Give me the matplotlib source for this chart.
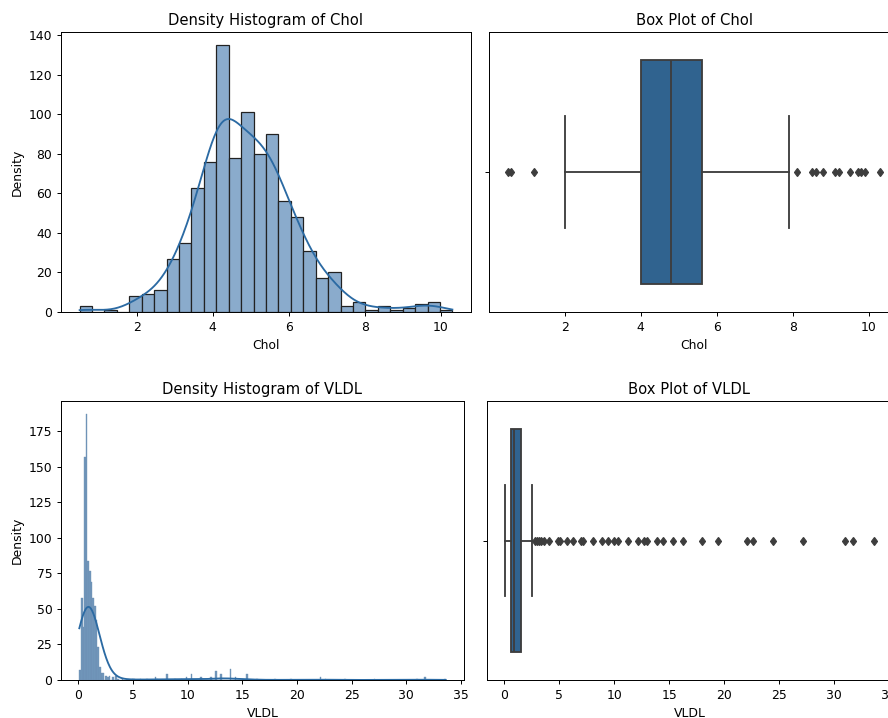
import numpy as np
import matplotlib
matplotlib.use('Agg')
import matplotlib.pyplot as plt

# --- Chol: 30 histogram bins between min and max ---
chol_min, chol_max = 0.5, 10.3
chol_counts = [3, 0, 1, 0, 8, 9, 11, 27, 35, 63, 76, 135, 78, 101, 80,
               90, 56, 48, 31, 17, 20, 3, 5, 1, 3, 1, 2, 4, 5, 1]
# Chol box plot stats
chol_q1, chol_med, chol_q3 = 4.0, 4.8, 5.6
chol_whislo, chol_whishi = 2.0, 7.9
chol_fliers = [0.5, 0.6, 1.2, 8.1, 8.5, 8.6, 8.8, 9.1, 9.2, 9.5, 9.7, 9.8, 9.9, 10.3]

# --- VLDL ---
vldl_min, vldl_max = 0.1, 33.6
vldl_nbins = 224
# counts of the first bins (bin width ~0.15 from vldl_min)
vldl_low_counts = [7, 58, 37, 157, 187, 84, 77, 69, 58, 52, 42, 23, 9, 5]
# sparse tail: values and how many times they appear
vldl_tail_vals = [2.3, 2.5, 2.7, 2.9, 3.1, 3.4, 3.6, 4.1, 4.9, 5.1, 5.7, 6.3, 7.0, 7.2,
                  8.1, 8.9, 9.5, 9.9, 10.4, 11.3, 12.2, 12.6, 13.0, 13.9, 14.4, 15.4,
                  16.3, 18.0, 19.4, 22.1, 22.6, 24.4, 27.1, 31.0, 31.7, 33.6]
vldl_tail_counts = [5, 3, 2, 3, 2, 3, 1, 1, 1, 1, 1, 1, 2, 1,
                    4, 1, 1, 2, 4, 2, 2, 6, 4, 8, 2, 4,
                    1, 1, 1, 2, 1, 1, 1, 1, 2, 1]
# VLDL box plot stats
vldl_q1, vldl_med, vldl_q3 = 0.6, 0.85, 1.5
vldl_whislo, vldl_whishi = 0.1, 2.5
vldl_fliers = [2.77, 2.98, 3.19, 3.37, 3.59, 4.07, 4.92, 5.11, 5.71, 6.26, 7.02, 7.17,
               8.09, 8.91, 9.45, 9.94, 10.36, 11.28, 12.16, 12.71, 13.01, 13.92, 14.44,
               15.35, 16.29, 18.02, 19.42, 22.07, 22.64, 24.44, 27.14, 30.97, 31.73, 33.59]

bar_face = '#8aabcc'
line_col = '#2b6aa3'
box_face = '#30638f'
gray = '#3d3d3d'


def kde(sample, grid, adjust=1.0):
    bw = adjust * sample.std(ddof=1) * len(sample) ** (-1 / 5)
    z = (grid[:, None] - sample[None, :]) / bw
    return np.exp(-0.5 * z ** 2).sum(axis=1) / (len(sample) * bw * np.sqrt(2 * np.pi))


def draw_box(ax, q1, med, q3, lo, hi, fliers):
    stats = [{'q1': q1, 'med': med, 'q3': q3, 'whislo': lo, 'whishi': hi, 'fliers': fliers}]
    ax.bxp(stats, positions=[0], widths=0.8, orientation='horizontal', patch_artist=True,
           boxprops=dict(facecolor=box_face, edgecolor=gray, linewidth=1.5),
           medianprops=dict(color=gray, linewidth=1.5),
           whiskerprops=dict(color=gray, linewidth=1.5),
           capprops=dict(color=gray, linewidth=1.5),
           flierprops=dict(marker='d', markerfacecolor=gray, markeredgecolor=gray, markersize=5))
    ax.set_ylim(0.5, -0.5)
    ax.set_yticks([0])
    ax.set_yticklabels([''])


W, H = 888, 718
DPI = 88.8
fig = plt.figure(figsize=(W / DPI, H / DPI), dpi=DPI)
ax1 = fig.add_axes([61 / W, (H - 312) / H, 410 / W, 280 / H])
ax2 = fig.add_axes([489 / W, (H - 312) / H, 410 / W, 280 / H])
ax3 = fig.add_axes([61 / W, (H - 680) / H, 403 / W, 279 / H])
ax4 = fig.add_axes([487 / W, (H - 680) / H, 405 / W, 279 / H])

# Chol histogram
chol_edges = np.linspace(chol_min, chol_max, len(chol_counts) + 1)
chol_centers = (chol_edges[:-1] + chol_edges[1:]) / 2
ax1.hist(chol_centers, bins=chol_edges, weights=chol_counts,
         facecolor=bar_face, edgecolor='#222222', linewidth=1)
chol_sample = np.repeat(chol_centers, chol_counts)
grid = np.linspace(chol_min, chol_max, 300)
bw = chol_edges[1] - chol_edges[0]
ax1.plot(grid, kde(chol_sample, grid, 1.2) * len(chol_sample) * bw, color=line_col, linewidth=1.5)
ax1.set_title('Density Histogram of Chol')
ax1.set_xlabel('Chol')
ax1.set_ylabel('Density')

draw_box(ax2, chol_q1, chol_med, chol_q3, chol_whislo, chol_whishi, chol_fliers)
ax2.set_title('Box Plot of Chol')
ax2.set_xlabel('Chol')

# VLDL histogram
vldl_edges = np.linspace(vldl_min, vldl_max, vldl_nbins + 1)
vldl_centers = (vldl_edges[:-1] + vldl_edges[1:]) / 2
vldl_sample = np.concatenate([
    np.repeat(vldl_centers[:len(vldl_low_counts)], vldl_low_counts),
    np.repeat(vldl_tail_vals, vldl_tail_counts)])
ax3.hist(vldl_sample, bins=vldl_edges, facecolor='#7297bb', edgecolor='#6a8db2', linewidth=0.3)
grid = np.linspace(vldl_min, vldl_max, 600)
bw = vldl_edges[1] - vldl_edges[0]
ax3.plot(grid, kde(vldl_sample, grid) * len(vldl_sample) * bw, color=line_col, linewidth=1.5)
ax3.set_title('Density Histogram of VLDL')
ax3.set_xlabel('VLDL')
ax3.set_ylabel('Density')

draw_box(ax4, vldl_q1, vldl_med, vldl_q3, vldl_whislo, vldl_whishi, vldl_fliers)
ax4.set_title('Box Plot of VLDL')
ax4.set_xlabel('VLDL')

fig.savefig('out.png', dpi=DPI)
